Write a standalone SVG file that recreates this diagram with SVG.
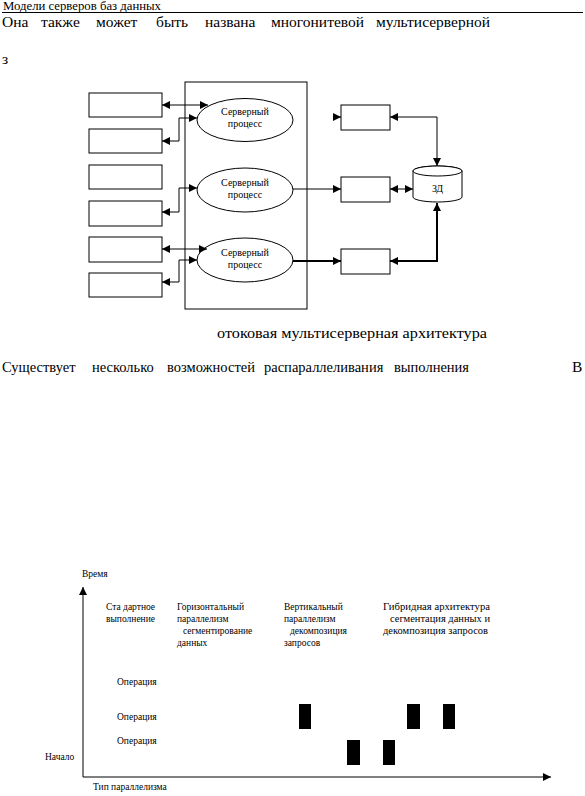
<svg xmlns="http://www.w3.org/2000/svg" width="585" height="796" viewBox="0 0 585 796">
<style>
text{font-family:"Liberation Serif","Times New Roman",serif;fill:#000}
.body{font-size:15.5px}
.body2{font-size:14.5px}
.small{font-size:10px}
.lbl{font-size:9.5px}
.box{fill:#fff;stroke:#000;stroke-width:1}
.frame{fill:none;stroke:#000;stroke-width:1}
.ln{fill:none;stroke:#000;stroke-width:1}
.thick{fill:none;stroke:#000;stroke-width:2}
.blk{fill:#000}
</style>
<defs>
<marker id="ah" viewBox="0 0 10 10" refX="10" refY="5" markerWidth="8" markerHeight="8" markerUnits="userSpaceOnUse" orient="auto-start-reverse">
<path d="M0,0 L10,5 L0,10 z" fill="#000"/>
</marker>
</defs>
<text x="3" y="10" style="font-size:11.5px" textLength="158" lengthAdjust="spacingAndGlyphs">Модели серверов баз данных</text>
<line x1="2" y1="12.5" x2="583" y2="12.5" stroke="#000" stroke-width="1"/>
<text class="body" y="27"><tspan x="2">Она</tspan><tspan x="41">также</tspan><tspan x="96">может</tspan><tspan x="156">быть</tspan><tspan x="205">названа</tspan><tspan x="271">многонитевой</tspan><tspan x="376">мультисерверной</tspan></text>
<text class="body" x="2" y="64">з</text>
<g id="server-frame"><rect class="frame" x="185" y="82" width="122" height="227"/></g>
<g id="client1"><rect class="box" x="89" y="93" width="73" height="24"/></g>
<g id="client2"><rect class="box" x="89" y="129" width="73" height="24"/></g>
<g id="client3"><rect class="box" x="89" y="165" width="73" height="24"/></g>
<g id="client4"><rect class="box" x="89" y="201" width="73" height="25"/></g>
<g id="client5"><rect class="box" x="89" y="237" width="73" height="25"/></g>
<g id="client6"><rect class="box" x="89" y="273" width="73" height="24"/></g>
<g id="proc1"><ellipse class="box" cx="245" cy="120" rx="48" ry="21.5"/>
<text class="small" x="245" y="115" text-anchor="middle">Серверный</text><text class="small" x="245" y="127" text-anchor="middle">процесс</text></g>
<g id="proc2"><ellipse class="box" cx="245" cy="190" rx="48" ry="22"/>
<text class="small" x="245" y="186" text-anchor="middle">Серверный</text><text class="small" x="245" y="198" text-anchor="middle">процесс</text></g>
<g id="proc3"><ellipse class="box" cx="245" cy="260" rx="48" ry="22"/>
<text class="small" x="245" y="256" text-anchor="middle">Серверный</text><text class="small" x="245" y="268" text-anchor="middle">процесс</text></g>
<g id="r1"><rect class="box" x="341" y="105" width="49" height="25"/></g>
<g id="r2"><rect class="box" x="341" y="177" width="49" height="25"/></g>
<g id="r3"><rect class="box" x="341" y="249" width="49" height="25"/></g>
<g id="db">
<path class="box" d="M413,171 V197 A24.5,5 0 0 0 462,197 V171 A24.5,5 0 0 0 413,171 z"/>
<ellipse class="box" cx="437.5" cy="171" rx="24.5" ry="5"/>
<text class="small" x="437.5" y="192" text-anchor="middle">ЗД</text>
</g>
<g id="connectors">
<line class="ln" x1="162" y1="105" x2="208" y2="105" marker-start="url(#ah)" marker-end="url(#ah)"/>
<path class="ln" d="M197,118 H179 V141 H162" marker-start="url(#ah)" marker-end="url(#ah)"/>
<path class="ln" d="M197,188 H179 V212 H162" marker-start="url(#ah)" marker-end="url(#ah)"/>
<line class="ln" x1="162" y1="249" x2="207" y2="249" marker-start="url(#ah)" marker-end="url(#ah)"/>
<path class="ln" d="M197,260 H179 V282 H162" marker-start="url(#ah)" marker-end="url(#ah)"/>
<line class="ln" x1="333" y1="117" x2="341" y2="117" marker-end="url(#ah)"/>
<line class="ln" x1="293" y1="189" x2="341" y2="189" marker-end="url(#ah)"/>
<line class="thick" x1="293" y1="261" x2="341" y2="261" marker-end="url(#ah)"/>
<path class="ln" d="M390,117 H437 V166" marker-start="url(#ah)" marker-end="url(#ah)"/>
<line class="ln" x1="390" y1="189" x2="413" y2="189" marker-start="url(#ah)" marker-end="url(#ah)"/>
<path class="thick" d="M390,261 H437 V203" marker-start="url(#ah)" marker-end="url(#ah)"/>
</g>
<text class="body" x="217" y="338" textLength="270" lengthAdjust="spacingAndGlyphs">отоковая мультисерверная архитектура</text>
<text class="body2" y="372"><tspan x="2">Существует</tspan><tspan x="92">несколько</tspan><tspan x="167">возможностей</tspan><tspan x="264">распараллеливания</tspan><tspan x="394">выполнения</tspan></text>
<text class="body" x="572" y="372">В</text>
<g id="chart">
<line class="ln" x1="83" y1="777" x2="83" y2="587" marker-end="url(#ah)"/>
<line class="ln" x1="83" y1="777" x2="551" y2="777" marker-end="url(#ah)"/>
<text class="lbl" x="82" y="577">Время</text>
<text class="lbl" x="106" y="610">Ста дартное</text>
<text class="lbl" x="106" y="622">выполнение</text>
<text class="lbl" x="177" y="610">Горизонтальный</text>
<text class="lbl" x="177" y="622">параллелизм</text>
<text class="lbl" x="183" y="634">сегментирование</text>
<text class="lbl" x="177" y="646">данных</text>
<text class="lbl" x="284" y="610">Вертикальный</text>
<text class="lbl" x="284" y="622">параллелизм</text>
<text class="lbl" x="290" y="634">декомпозиция</text>
<text class="lbl" x="284" y="646">запросов</text>
<text class="lbl" x="383" y="610" textLength="107" lengthAdjust="spacingAndGlyphs">Гибридная архитектура</text>
<text class="lbl" x="390" y="622" textLength="100" lengthAdjust="spacingAndGlyphs">сегментация данных  и</text>
<text class="lbl" x="383" y="634" textLength="105" lengthAdjust="spacingAndGlyphs">декомпозиция запросов</text>
<text class="lbl" x="117" y="685">Операция</text>
<text class="lbl" x="117" y="720">Операция</text>
<text class="lbl" x="117" y="744">Операция</text>
<text class="lbl" x="45" y="760">Начало</text>
<text class="lbl" x="93" y="790">Тип параллелизма</text>
<rect class="blk" x="299" y="704" width="12" height="25"/>
<rect class="blk" x="407" y="704" width="13" height="25"/>
<rect class="blk" x="443" y="704" width="12" height="25"/>
<rect class="blk" x="347" y="740" width="13" height="25"/>
<rect class="blk" x="383" y="740" width="12" height="25"/>
</g>
</svg>
